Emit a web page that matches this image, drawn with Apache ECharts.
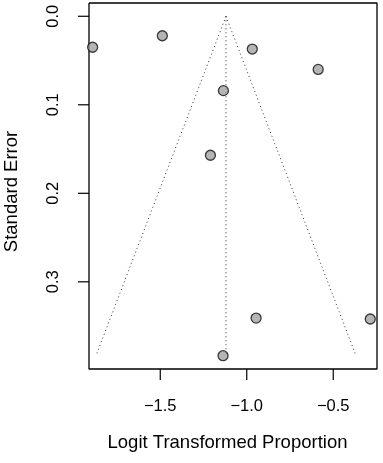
<!DOCTYPE html>
<html>
<head>
<meta charset="utf-8">
<script src="https://cdn.jsdelivr.net/npm/echarts@6/dist/echarts.min.js"></script>
<style>html,body{margin:0;padding:0;background:#fff}#c{width:383px;height:463px}</style>
</head>
<body>
<div id="c"></div>
<script>
// Study estimates (logit proportion) and standard errors
var studyX = [-1.891, -1.488, -0.968, -0.587, -1.135, -1.210, -0.946, -0.286, -1.137];
var studySE = [0.035, 0.022, 0.037, 0.060, 0.084, 0.157, 0.341, 0.342, 0.3835];
// Pooled estimate and funnel extent
var pooledX = [-1.12];
var funnelSE = [0, 0.3835];
var funnelZ = [1.96];
// Tick labels
var xTicks = [-1.5, -1.0, -0.5];
var yTicks = [0, 0.1, 0.2, 0.3];
// Plot-frame ranges
var xRange = [-1.912, -0.247];
var yRange = [-0.015, 0.3985];

// layout: plot frame at left 89 / bottom 94; grid extended by tick length so ticks fall inside it
var W = 383, H = 463, PL = 89, PR = 6, PT = 3, PB = 94, TL = 11;
var dx = TL * (xRange[1] - xRange[0]) / (W - PL - PR);
var dy = TL * (yRange[1] - yRange[0]) / (H - PT - PB);
var xAxisMin = xRange[0] - dx;
var yAxisMax = yRange[1] + dy;

var pts = studyX.map(function (x, i) { return [x, studySE[i]]; });
var c = pooledX[0], z = funnelZ[0];
var leftLine = funnelSE.map(function (s) { return [c - z * s, s]; });
var rightLine = funnelSE.map(function (s) { return [c + z * s, s]; });
var midLine = funnelSE.map(function (s) { return [c, s]; });
var frame = [[xRange[0], yRange[0]], [xRange[1], yRange[0]], [xRange[1], yRange[1]], [xRange[0], yRange[1]], [xRange[0], yRange[0]]];

var font = 'Liberation Sans, Arial, sans-serif';
var dotted = { color: '#333', width: 1, type: [1, 3] };
var tickStyle = { color: '#000', width: 1.2 };

var series = [
  { type: 'line', data: leftLine, symbol: 'none', lineStyle: dotted, silent: true },
  { type: 'line', data: rightLine, symbol: 'none', lineStyle: dotted, silent: true },
  { type: 'line', data: midLine, symbol: 'none', lineStyle: dotted, silent: true },
  { type: 'line', data: frame, symbol: 'none', clip: false, silent: true, lineStyle: { color: '#000', width: 1.3 } }
];
xTicks.forEach(function (v) {
  series.push({ type: 'line', data: [[v, yRange[1]], [v, yAxisMax]], symbol: 'none', clip: false, silent: true, lineStyle: tickStyle });
});
yTicks.forEach(function (v) {
  series.push({ type: 'line', data: [[xAxisMin, v], [xRange[0], v]], symbol: 'none', clip: false, silent: true, lineStyle: tickStyle });
});
series.push({ type: 'scatter', data: pts, symbol: 'circle', symbolSize: 10, z: 10,
  itemStyle: { color: '#a3a3a3', borderColor: '#111', borderWidth: 1.3 } });

var chart = echarts.init(document.getElementById('c'));
chart.setOption({
  animation: false,
  grid: { left: PL - TL, right: PR, top: PT, bottom: PB - TL, outerBoundsMode: 'none', show: false },
  xAxis: {
    type: 'value', min: xAxisMin, max: xRange[1],
    name: 'Logit Transformed Proportion', nameLocation: 'middle', nameGap: 53,
    nameTextStyle: { fontFamily: font, fontSize: 18.5, color: '#000' },
    axisLine: { show: false, onZero: false },
    splitLine: { show: false },
    axisTick: { show: false },
    axisLabel: { customValues: xTicks, margin: 18, fontFamily: font, fontSize: 16.5, color: '#000',
      formatter: function (v) { return (v < 0 ? '\u2212' : '') + Math.abs(v).toFixed(1); } }
  },
  yAxis: {
    type: 'value', inverse: true, min: yRange[0], max: yAxisMax,
    name: 'Standard Error', nameLocation: 'middle', nameGap: 57,
    nameTextStyle: { fontFamily: font, fontSize: 18.5, color: '#000' },
    axisLine: { show: false, onZero: false },
    splitLine: { show: false },
    axisTick: { show: false },
    axisLabel: { customValues: yTicks, rotate: 90, margin: 16, fontFamily: font, fontSize: 16.5, color: '#000',
      formatter: function (v) { return v.toFixed(1); } }
  },
  series: series
});
</script>
</body>
</html>
